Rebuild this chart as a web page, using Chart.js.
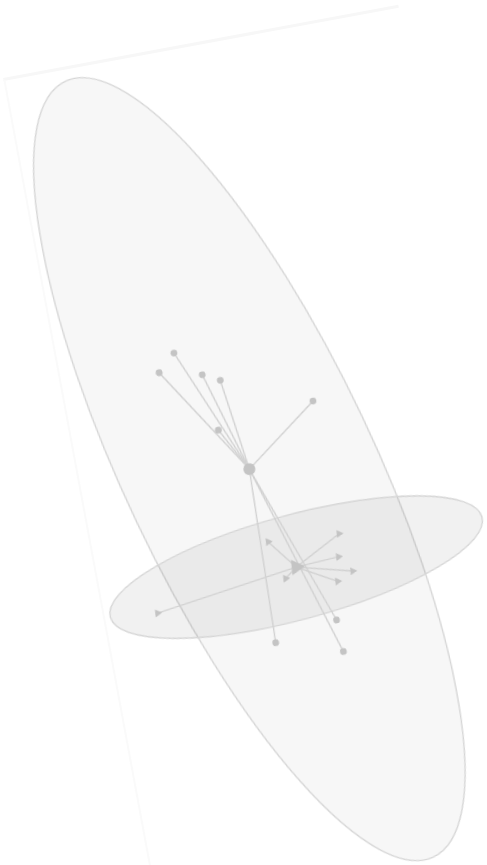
<!DOCTYPE html>
<html>
<head>
<meta charset="utf-8">
<script src="https://cdn.jsdelivr.net/npm/chart.js@4.4.0/dist/chart.umd.min.js"></script>
<style>
  html, body { margin: 0; padding: 0; background: #fff; overflow: hidden; width: 487px; height: 865px; }
  /* the whole plot sits tilted, like the scan it comes from */
  #frame {
    position: absolute; left: 3px; top: 78px; width: 400px; height: 900px;
    transform-origin: 0 0; transform: rotate(-10.5deg);
    border-top: 3px solid #f7f7f7; border-left: 2px solid #fafafa;
  }
</style>
</head>
<body>
<div id="frame"><canvas id="c" width="400" height="900"></canvas></div>
<script>
// group 1 (circles)
const grp1X = [-1.76, -2.14, -1.26, -0.91, 0.92, -1.14, -0.77, 0.59, 0.57];
const grp1Y = [3.09, 2.75, 2.55, 2.37, 1.61, 1.38, -3.10, -3.53, -2.87];
// group 2 (triangles)
const grp2X = [-0.54, 0.95, 0.85, 1.09, 0.74, -0.32, -3.09];
const grp2Y = [-1.05, -1.15, -1.61, -1.95, -2.10, -1.85, -2.07];
// class centroids and their ellipses
const centX = [-0.65, -0.06];
const centY = [0.48, -1.66];
const ellA = [8.99, 4.03];
const ellB = [2.54, 1.07];
const ellAngle = [-75.1, 4.6];

const markCol = '#c4c4c4';
const lineCol = '#d1d1d1';
const ellFill = ['rgba(0,0,0,0.03)', 'rgba(0,0,0,0.055)'];

const pts = (xs, ys) => xs.map((v, i) => ({ x: v, y: ys[i] }));

// star segments: each point to its centroid
const stars = [];
[[grp1X, grp1Y, 0], [grp2X, grp2Y, 1]].forEach(([xs, ys, k]) => {
  xs.forEach((v, i) => {
    stars.push({
      data: [{ x: v, y: ys[i] }, { x: centX[k], y: centY[k] }],
      showLine: true,
      borderColor: lineCol,
      borderWidth: 1.4,
      pointRadius: 0,
      order: 2
    });
  });
});

const ellipsePlugin = {
  id: 'classEllipses',
  beforeDatasetsDraw(chart) {
    const { ctx, scales: { x, y } } = chart;
    ctx.save();
    for (let i = 0; i < centX.length; i++) {
      const cx = x.getPixelForValue(centX[i]);
      const cy = y.getPixelForValue(centY[i]);
      const rx = Math.abs(x.getPixelForValue(centX[i] + ellA[i]) - cx);
      const ry = Math.abs(y.getPixelForValue(centY[i] + ellB[i]) - cy);
      ctx.beginPath();
      ctx.ellipse(cx, cy, rx, ry, -ellAngle[i] * Math.PI / 180, 0, 2 * Math.PI);
      ctx.fillStyle = ellFill[i];
      ctx.fill();
      ctx.strokeStyle = '#d6d6d6';
      ctx.lineWidth = 1.4;
      ctx.stroke();
    }
    ctx.restore();
  }
};

new Chart(document.getElementById('c'), {
  type: 'scatter',
  data: {
    datasets: [
      { data: pts(grp1X, grp1Y), pointStyle: 'circle', pointRadius: 3.4,
        backgroundColor: markCol, borderColor: markCol, borderWidth: 0, order: 0 },
      { data: pts(grp2X, grp2Y), pointStyle: 'triangle', pointRadius: 4.6, rotation: 95,
        backgroundColor: markCol, borderColor: markCol, borderWidth: 0, order: 0 },
      { data: [{ x: centX[0], y: centY[0] }], pointStyle: 'circle', pointRadius: 6,
        backgroundColor: markCol, borderColor: markCol, borderWidth: 0, order: 0 },
      { data: [{ x: centX[1], y: centY[1] }], pointStyle: 'triangle', pointRadius: 9, rotation: 95,
        backgroundColor: markCol, borderColor: markCol, borderWidth: 0, order: 0 },
      ...stars
    ]
  },
  options: {
    responsive: false,
    animation: false,
    layout: { padding: 0 },
    scales: {
      x: { type: 'linear', min: -4, max: 4, display: false },
      y: { type: 'linear', min: -9, max: 9, display: false }
    },
    plugins: { legend: { display: false }, tooltip: { enabled: false } }
  },
  plugins: [ellipsePlugin]
});
</script>
</body>
</html>
